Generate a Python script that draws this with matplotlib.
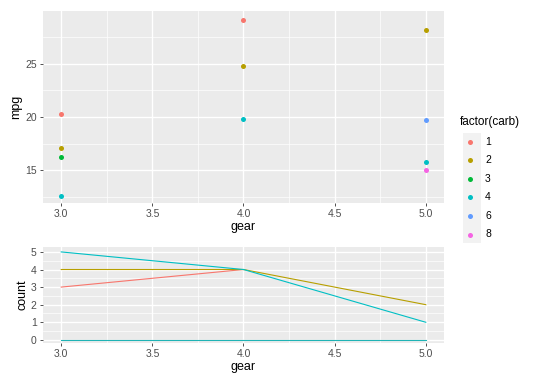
import numpy as np
import matplotlib.pyplot as plt
from matplotlib.patches import Rectangle

plt.rcParams['font.family'] = ['Liberation Sans', 'DejaVu Sans']

# top panel: mpg by gear, coloured by carb
carb_levels = ['1', '2', '3', '4', '6', '8']
carb_colors = ['#F8766D', '#B79F00', '#00BA38', '#00BFC4', '#619CFF', '#F564E3']
pt_gear = [3, 3, 3, 3, 4, 4, 4, 5, 5, 5, 5]
pt_mpg = [20.3, 17.15, 16.3, 12.6, 29.1, 24.75, 19.8, 28.2, 19.7, 15.8, 15.0]
pt_carb = ['1', '2', '3', '4', '1', '2', '4', '2', '6', '4', '8']

# bottom panel: counts per gear
line_carb = ['1', '2', '4', '3']
line_gear = [[3, 4], [3, 4, 5], [3, 4, 5], [3, 4, 5]]
line_count = [[3, 4], [4, 4, 2], [5, 4, 1], [0, 0, 0]]
line_colors = {'1': '#F8766D', '2': '#B79F00', '4': '#00BFC4', '3': '#1FB3B5'}

x_ticks = [3.0, 3.5, 4.0, 4.5, 5.0]


def gg_style(ax, yminor):
    ax.set_facecolor('#EBEBEB')
    for s in ax.spines.values():
        s.set_visible(False)
    ax.set_xticks(x_ticks)
    ax.set_xticks([3.25, 3.75, 4.25, 4.75], minor=True)
    ax.set_yticks(yminor, minor=True)
    ax.grid(True, which='major', color='white', lw=1.0)
    ax.grid(True, which='minor', color='white', lw=0.5)
    ax.set_axisbelow(True)
    ax.tick_params(which='major', length=2.5, width=0.6, color='#333333',
                   labelsize=7.5, labelcolor='#4D4D4D', pad=2)
    ax.tick_params(which='minor', length=0)
    ax.set_xlim(2.9, 5.1)
    ax.set_xticklabels([f'{v:.1f}' for v in x_ticks])
    ax.set_xlabel('gear', fontsize=9, labelpad=1)


fig = plt.figure(figsize=(5.4, 3.86), dpi=100)
ax1 = fig.add_axes([0.0796, 0.4741, 0.7426, 0.4974])
ax2 = fig.add_axes([0.0796, 0.1114, 0.7426, 0.2487])

gg_style(ax1, [12.5, 17.5, 22.5, 27.5])
ax1.set_ylim(11.95, 29.95)
ax1.set_yticks([15, 20, 25])
ax1.set_ylabel('mpg', fontsize=9, labelpad=2)

handles = []
for lvl, col in zip(carb_levels, carb_colors):
    xs = [g for g, c in zip(pt_gear, pt_carb) if c == lvl]
    ys = [m for m, c in zip(pt_mpg, pt_carb) if c == lvl]
    h = ax1.scatter(xs, ys, s=13, color=col, label=lvl, linewidths=0, zorder=3)
    handles.append(h)

gg_style(ax2, [0.5, 1.5, 2.5, 3.5, 4.5])
ax2.set_ylim(-0.18, 5.28)
ax2.set_yticks([0, 1, 2, 3, 4, 5])
ax2.set_ylabel('count', fontsize=9, labelpad=2)
for c, gx, cy in zip(line_carb, line_gear, line_count):
    ax2.plot(gx, cy, color=line_colors[c], lw=0.8, zorder=3)

# grey key background, as ggplot draws it
fig.add_artist(Rectangle((462.5 / 540, 1 - 243 / 386), 18 / 540, 110 / 386,
                         transform=fig.transFigure, facecolor='#F2F2F2',
                         edgecolor='none', zorder=0))
leg = fig.legend(handles=handles, title='factor(carb)', loc='upper left',
                 bbox_to_anchor=(460 / 540, 1 - 116 / 386), frameon=False,
                 fontsize=7.5, title_fontsize=8.5, labelspacing=0.82,
                 handletextpad=0.4, handlelength=2.0, borderaxespad=0,
                 borderpad=0, scatterpoints=1)
leg._legend_box.align = 'left'

fig.savefig('out.png', dpi=100)
